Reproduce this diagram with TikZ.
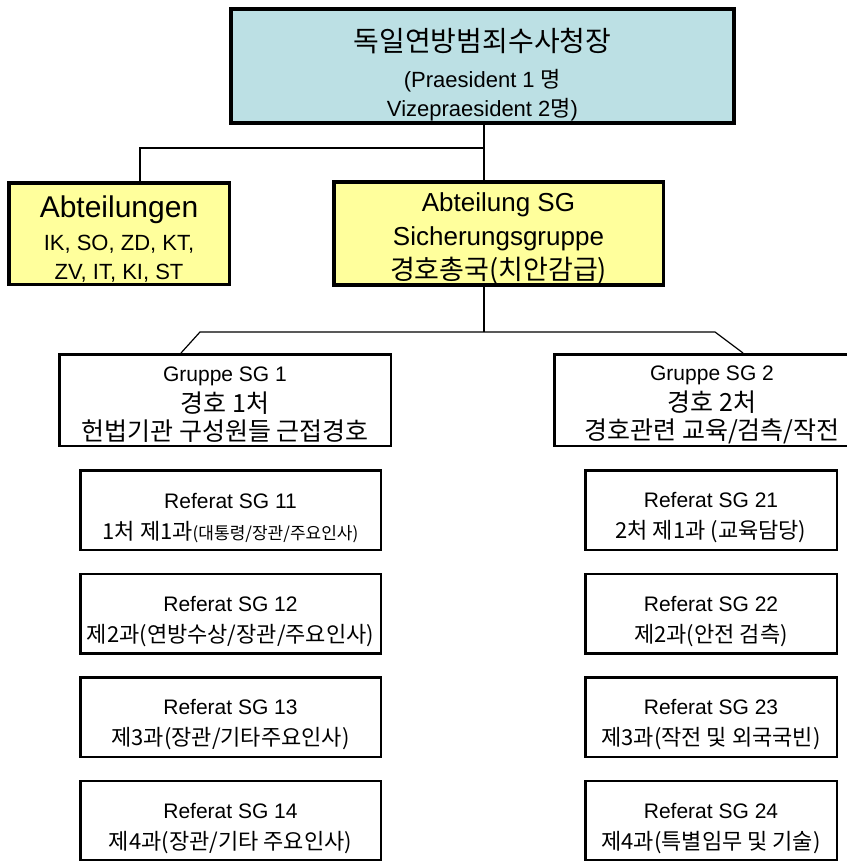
\documentclass[tikz,border=0pt]{standalone}
\usepackage{fontspec}
\setmainfont{Liberation Sans}
\newfontfamily\kr{Noto Sans CJK KR}
\usetikzlibrary{positioning}

\definecolor{headblue}{HTML}{BCE0E4}
\definecolor{deptyellow}{HTML}{FFFF9C}
\newcommand\fs[2]{\fontsize{#1}{#2}\selectfont}
\newcommand\lift[1]{\rule{0pt}{#1}}

\tikzset{
  head box/.style={draw,line width=3.5pt,fill=headblue,inner sep=0pt,align=center,
    minimum width=503pt,minimum height=114pt,font=\fs{22}{29}},
  dept box/.style={draw,line width=3.5pt,fill=deptyellow,inner sep=0pt,align=center,
    minimum height=101.5pt},
  group box/.style={draw,line width=2.5pt,fill=white,inner sep=0pt,align=center,
    minimum height=91.5pt,font=\fs{25}{28}},
  ref box/.style={draw,line width=2.5pt,fill=white,inner sep=0pt,align=center,
    minimum height=79.5pt,font=\fs{21}{31}},
  link/.style={line width=1.2pt}
}

\begin{document}
\begin{tikzpicture}[x=1pt,y=-1pt,node distance=21.5pt]
\useasboundingbox (0,0) rectangle (846,861);

% leadership
\node[head box] (bka) at (482.5,66)
  {\lift{40pt}{\kr\fs{28}{36}독일연방범죄수사청장}\\[7pt]
   (Praesident 1 {\kr 명}\\
   Vizepraesident 2{\kr 명})};

% departments
\node[dept box,minimum width=220.5pt,font=\fs{22}{29}] (abt) at (119,233.5)
  {\lift{33pt}{\fs{30}{33}Abteilungen}\\[4pt]
   IK, SO, ZD, KT,\\
   ZV, IT, KI, ST};
\node[dept box,minimum width=329.5pt,font=\fs{26}{34}] (sg) at (498.5,233.5)
  {\lift{30pt}Abteilung SG\\
   Sicherungsgruppe\\
   {\kr\fs{27}{34}경호총국(치안감급)}};

% groups
\node[group box,minimum width=331.5pt] (sg1) at (225,400)
  {\lift{24pt}{\fs{21}{28}Gruppe SG 1}\\[3pt]
   {\kr 경호 1처}\\
   {\kr 헌법기관 구성원들 근접경호}};
\node[group box,minimum width=315.5pt] (sg2) at (712,400)
  {\lift{24pt}{\fs{21}{28}Gruppe SG 2}\\[3pt]
   {\kr 경호 2처}\\
   {\kr 경호관련 교육/검측/작전}};

% referate, group 1
\node[ref box,minimum width=300.5pt] (sg11) at (230.5,510)
  {\lift{31pt}Referat SG 11\\{\kr\fs{22}{31}1처 제1과{\fs{17}{31}(대통령/장관/주요인사)}}};
\node[ref box,minimum width=300.5pt] (sg12) [below=of sg11]
  {\lift{31pt}Referat SG 12\\{\kr\fs{22}{31}제2과(연방수상/장관/주요인사)}};
\node[ref box,minimum width=300.5pt] (sg13) [below=of sg12]
  {\lift{31pt}Referat SG 13\\{\kr\fs{22}{31}제3과(장관/기타주요인사)}};
\node[ref box,minimum width=300.5pt] (sg14) [below=of sg13]
  {\lift{31pt}Referat SG 14\\{\kr\fs{22}{31}제4과(장관/기타 주요인사)}};

% referate, group 2
\node[ref box,minimum width=251.5pt] (sg21) at (711,510)
  {\lift{31pt}Referat SG 21\\{\kr\fs{22}{31}2처 제1과 (교육담당)}};
\node[ref box,minimum width=251.5pt] (sg22) [below=of sg21]
  {\lift{31pt}Referat SG 22\\{\kr\fs{22}{31}제2과(안전 검측)}};
\node[ref box,minimum width=251.5pt] (sg23) [below=of sg22]
  {\lift{31pt}Referat SG 23\\{\kr\fs{22}{31}제3과(작전 및 외국국빈)}};
\node[ref box,minimum width=251.5pt] (sg24) [below=of sg23]
  {\lift{31pt}Referat SG 24\\{\kr\fs{22}{31}제4과(특별임무 및 기술)}};

% connectors
\coordinate (fork) at (484,148);
\coordinate (abtdrop) at (140,148);
\coordinate (hub) at (484,332);
\coordinate (hubl) at (200,332);
\coordinate (hubr) at (715,332);
\coordinate (tipl) at (181,0);
\coordinate (tipr) at (743,0);

\draw[link] (bka.south -| fork) -- (sg.north -| fork);
\draw[link] (fork) -- (abtdrop) -- (abt.north -| abtdrop);
\draw[link] (sg.south -| hub) -- (hub);
\draw[link] (sg1.north -| tipl) -- (hubl) -- (hubr) -- (sg2.north -| tipr);
\end{tikzpicture}
\end{document}
